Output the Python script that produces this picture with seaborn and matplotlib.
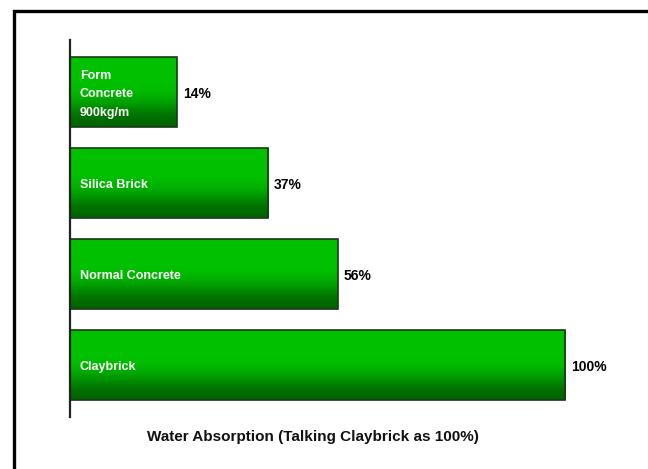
import numpy as np
import pandas as pd
import matplotlib.pyplot as plt
import seaborn as sb
from matplotlib.patches import Rectangle

materials = ['Form\nConcrete\n900kg/m', 'Silica Brick', 'Normal Concrete', 'Claybrick']
value_labels = ['14%', '37%', '56%', '100%']
# bar lengths as drawn in the picture (relative to Claybrick = 100)
bar_lengths = [21.6, 40.0, 54.1, 100.0]

sb.set_style('white')
plt.rcParams['font.family'] = ['Liberation Sans Narrow', 'Liberation Sans', 'DejaVu Sans']

data = pd.DataFrame({'material': materials, 'length': bar_lengths})

fig = plt.figure(figsize=(6.48, 4.69), dpi=100)
ax = fig.add_axes([70/648, 52/469, 550/648, 377/469])
sb.barplot(data=data, x='length', y='material', orient='h', color='#00b800',
           width=0.77, edgecolor='#1a3a1a', linewidth=1.2, ax=ax)

# vertical gradient on each bar, bright green top to dark green bottom
grad = np.array([[0.0], [0.0], [0.0], [0.0], [0.15], [0.45], [0.8], [1.0]])
cmap = plt.matplotlib.colors.LinearSegmentedColormap.from_list('g', ['#00c000', '#006400'])
for p in ax.patches:
    x0, y0 = p.get_x(), p.get_y()
    w, h = p.get_width(), p.get_height()
    im = ax.imshow(grad, cmap=cmap, aspect='auto', extent=(x0, x0 + w, y0 + h, y0),
                   interpolation='bicubic', zorder=p.get_zorder() - 0.1)
    im.set_clip_path(p)
    p.set_facecolor('none')

for i, (name, lab, l) in enumerate(zip(materials, value_labels, bar_lengths)):
    ax.text(2.0, i + 0.02, name, color='white', fontsize=9, fontweight='bold',
            va='center', ha='left', linespacing=1.75)
    ax.text(l + 1.2, i + 0.02, lab, color='black', fontsize=10, fontweight='bold',
            va='center', ha='left')

ax.set_xlim(0, 111.1)
ax.set_ylim(3.571, -0.577)
ax.set_xticks([])
ax.set_yticks([])
ax.set_xlabel('')
ax.set_ylabel('')
for s in ['top', 'right', 'bottom']:
    ax.spines[s].set_visible(False)
ax.spines['left'].set_color('#222222')
ax.spines['left'].set_linewidth(1.6)

fig.text(313/648, 1 - 437/469, 'Water Absorption (Talking Claybrick as 100%)',
         ha='center', va='center', fontsize=11, fontweight='bold', color='#111111')

fig.patches.append(Rectangle((14/648, -0.1), 1.2, 1.1 - 11/469,
                             transform=fig.transFigure, fill=False,
                             edgecolor='black', linewidth=2.4))

plt.savefig('out.png', dpi=100)
